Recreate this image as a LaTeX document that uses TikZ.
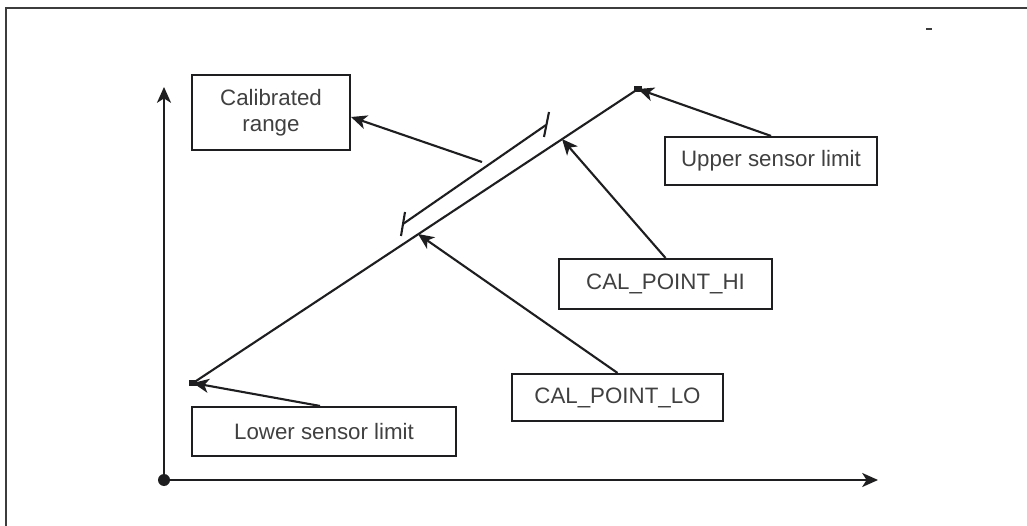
\documentclass[tikz,border=0pt]{standalone}
\usepackage{fontspec}
\setmainfont{Liberation Sans}
\usepackage{tikz}
\usetikzlibrary{arrows.meta, positioning, calc}
\definecolor{FrameGray}{RGB}{60,60,60}
\definecolor{InkBlack}{RGB}{30,30,32}
\tikzset{
  >={Stealth[length=9pt,width=8pt,inset=2.5pt]},  % punte piene
  % cornice e assi
  frame line/.style={line width=1.3pt,FrameGray},
  axis/.style={->,line width=1.2pt,InkBlack},
  % retta di taratura
  curve/.style={line width=1.2pt,InkBlack},
  % etichette nei riquadri
  label box/.style={draw=InkBlack,line width=1.2pt,inner sep=0pt,
    font=\fontsize{12.7}{15}\selectfont,text=black!75,align=center},
  pointer/.style={->,line width=1.2pt,InkBlack}
}

\begin{document}
\begin{tikzpicture}[x=0.02cm,y=-0.02cm]
  \useasboundingbox (0,0) rectangle (1027,526);
  % cornice
  \draw[frame line](6,526)--(6,8)--(1027,8);
  \draw[FrameGray,line width=0.8pt](926,29)--(932,29);
  % assi
  \coordinate (origin) at (164,480);
  \coordinate (yend) at (164,87);
  \coordinate (xend) at (878,480);
  \draw[axis](origin)--(yend);
  \draw[axis](origin)--(xend);
  \fill[InkBlack](origin) circle(6);
  % retta tra i limiti del sensore
  \coordinate (low) at (193,383);
  \coordinate (up) at (638,89);
  \draw[curve](low)--(up);
  \fill[InkBlack](189,380) rectangle (197,386);
  \fill[InkBlack](634,86) rectangle (642,92);
  % campo tarato
  \coordinate (rangelo) at (403,224);
  \coordinate (rangehi) at (546,125);
  \draw[curve](rangelo)--(rangehi);
  \draw[curve](401,236)--(405,212);
  \draw[curve](544,137)--(549,112);
  % riquadri
  \node[label box,minimum width=3.16cm,minimum height=1.5cm] (calbox) at (271,112.5) {Calibrated\\range};
  \node[label box,minimum width=4.24cm,minimum height=0.96cm] (upbox) at (771,161) {Upper sensor limit};
  \node[label box,minimum width=4.26cm,minimum height=1.0cm] (hibox) at (665.5,284) {CAL\_POINT\_HI};
  \node[label box,minimum width=4.22cm,minimum height=0.94cm] (lobox) at (617.5,397.5) {CAL\_POINT\_LO};
  \node[label box,minimum width=5.28cm,minimum height=0.98cm] (lowbox) at (324,431.5) {Lower sensor limit};
  % frecce
  \coordinate (calfrom) at (482,162);
  \coordinate (hipt) at (562,139);
  \coordinate (lopt) at (418,234);
  \draw[pointer](calfrom)--([yshift=-0.09cm]calbox.east);
  \draw[pointer](upbox.north)--(up);
  \draw[pointer](hibox.north)--(hipt);
  \draw[pointer](lobox.north)--(lopt);
  \draw[pointer]([xshift=-0.08cm]lowbox.north)--(low);
\end{tikzpicture}
\end{document}
